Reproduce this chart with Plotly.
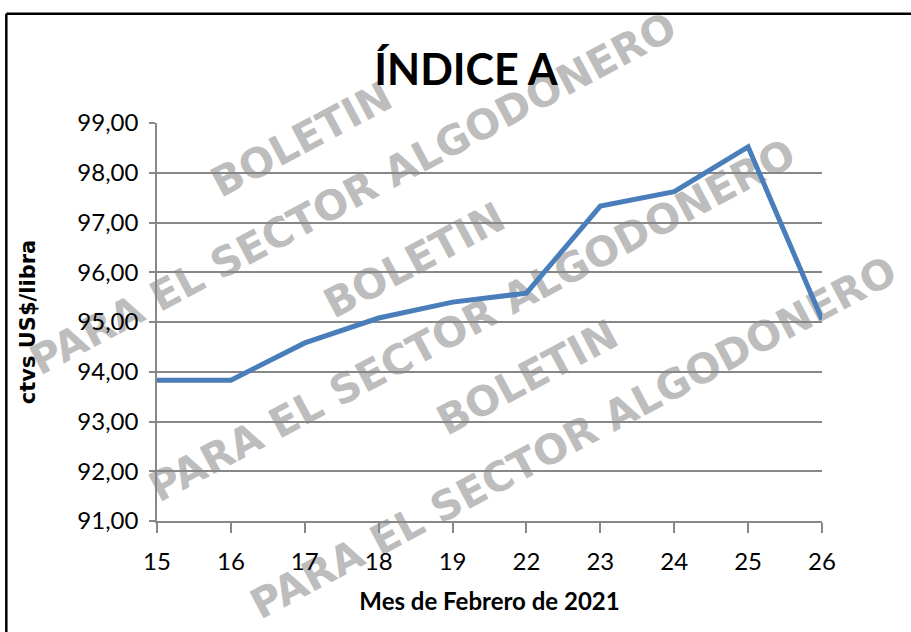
import plotly.graph_objects as go

# ---- data ----
dias = ["15", "16", "17", "18", "19", "22", "23", "24", "25", "26"]
indice_a = [93.83, 93.83, 94.58, 95.08, 95.40, 95.58, 97.33, 97.62, 98.52, 95.05]
y_ticks = [91, 92, 93, 94, 95, 96, 97, 98, 99]
titulo = "ÍNDICE A"
titulo_x = "Mes de Febrero de 2021"
titulo_y = "ctvs US$/libra"
marca_1 = "BOLETIN"
marca_2 = "PARA EL SECTOR ALGODONERO"

FONT = "Lato, sans-serif"
GRID = "#878787"

fig = go.Figure()
fig.add_trace(go.Scatter(
    x=dias, y=indice_a, mode="lines",
    line=dict(color="#4a7ebb", width=5),
    cliponaxis=False, showlegend=False, hoverinfo="x+y",
))

# watermark (drawn below the data)
wm_font = dict(family="DejaVu Sans, sans-serif", size=41,
               color="#bdbdbd", weight="bold")
centros = [
    (0.215, 0.965, marca_1), (0.293, 0.829, marca_2),
    (0.385, 0.661, marca_1), (0.472, 0.510, marca_2),
    (0.555, 0.367, marca_1), (0.624, 0.216, marca_2),
]
shapes = []
for cx, cy, txt in centros:
    shapes.append(dict(
        type="rect", xref="paper", yref="paper",
        x0=cx - 0.01, x1=cx + 0.01, y0=cy - 0.01, y1=cy + 0.01,
        line=dict(width=0), fillcolor="rgba(0,0,0,0)", layer="below",
        label=dict(text=txt, textangle=-28,
                   textposition="middle center", font=wm_font),
    ))
# chart frame (top and left edges visible)
shapes.append(dict(type="line", xref="paper", yref="paper",
                   x0=-0.2266, x1=1.2, y0=1.2747, y1=1.2747,
                   line=dict(color="black", width=2.5), layer="above"))
shapes.append(dict(type="line", xref="paper", yref="paper",
                   x0=-0.2266, x1=-0.2266, y0=1.2747, y1=-0.35,
                   line=dict(color="black", width=2.5), layer="above"))

fig.update_layout(
    width=911, height=632,
    margin=dict(l=157, r=89, t=123, b=111),
    paper_bgcolor="white", plot_bgcolor="rgba(0,0,0,0)",
    separators=",.",
    title=dict(text="<b>" + titulo + "</b>", x=0.5115, xanchor="center",
               y=1 - 70 / 632, yanchor="middle",
               font=dict(family=FONT, size=43, color="black")),
    shapes=shapes,
    xaxis=dict(
        type="category", range=[0, len(dias) - 1],
        showgrid=False, showline=True, linecolor=GRID, linewidth=1.5,
        ticks="outside", ticklen=10, tickcolor=GRID, tickwidth=1.5,
        tickfont=dict(family=FONT, size=24, color="black"),
        ticklabelstandoff=8,
        title=dict(text="<b>" + titulo_x + "</b>", standoff=20,
                   font=dict(family=FONT, size=24, color="black")),
    ),
    yaxis=dict(
        range=[91, 99], tickvals=y_ticks, tickformat=".2f",
        showgrid=True, gridcolor=GRID, gridwidth=1.5,
        showline=True, linecolor=GRID, linewidth=1.5,
        ticks="outside", ticklen=6, tickcolor=GRID, tickwidth=1.5,
        tickfont=dict(family=FONT, size=24, color="black"),
        ticklabelstandoff=6, zeroline=False,
        title=dict(text="<b>" + titulo_y + "</b>", standoff=36,
                   font=dict(family="DejaVu Sans, sans-serif", size=21, color="black")),
    ),
)

fig.write_html("out.html", config={"displayModeBar": False},
               post_script="document.body.style.margin='0px';")
